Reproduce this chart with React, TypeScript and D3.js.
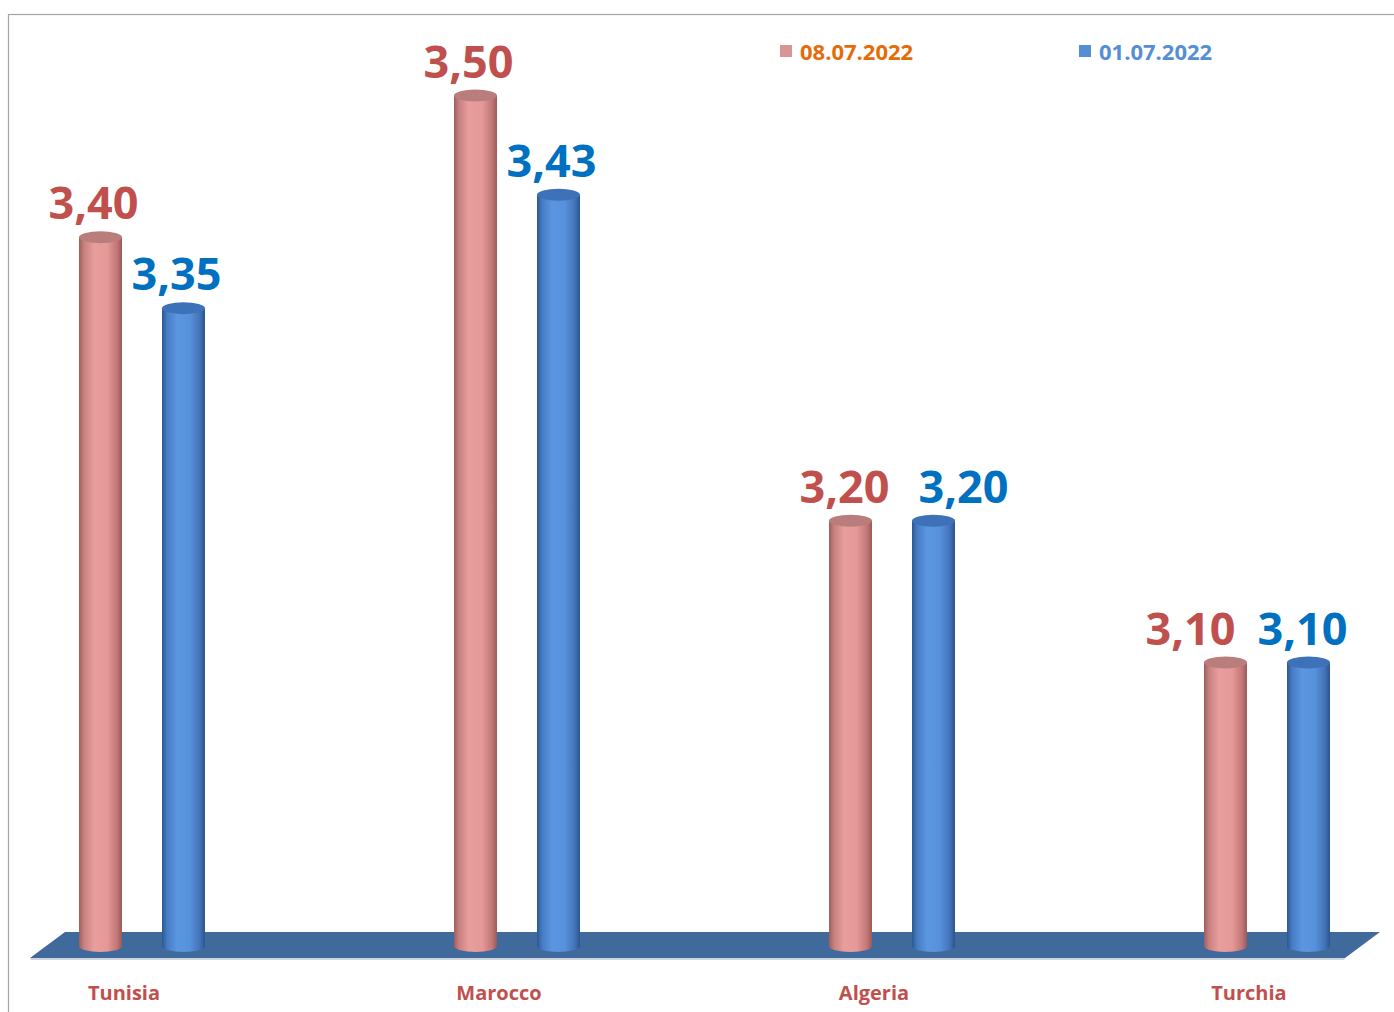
import React from "react";
import * as d3 from "d3";

const categories = ["Tunisia", "Marocco", "Algeria", "Turchia"];
const seriesNames = ["08.07.2022", "01.07.2022"];
const values0807 = [3.4, 3.5, 3.2, 3.1];
const values0107 = [3.35, 3.43, 3.2, 3.1];

const W = 1394;
const H = 1012;
const FONT = "'Open Sans', 'Noto Sans', sans-serif";

// label nudges (layout only): [series][category] horizontal offset of the value label from its bar centre
const LABEL_DX = [
  [-7, -7, -6, -35],
  [-7, -7, 30, -6],
];

const series = [
  { name: seriesNames[0], values: values0807, grad: "gPink", top: "#B97D7C", label: "#C0504D", swatch: "#D99594", legendText: "#E36C09" },
  { name: seriesNames[1], values: values0107, grad: "gBlue", top: "#3E72B8", label: "#0070C0", swatch: "#558ED5", legendText: "#558ED5" },
];

export default function App() {
  const x = d3.scalePoint<string>().domain(categories).range([142, 1267]);
  const y = d3.scaleLinear().domain([2.9, 3.5]).range([946, 95.5]);
  const fmt = (v: number) => d3.format(".2f")(v).replace(".", ",");
  const offset = 41.5;
  const rx = 21.5;
  const ry = 6;

  return (
    <svg width={W} height={H} style={{ position: "absolute", left: 0, top: 0, display: "block" }}>
      <defs>
        <linearGradient id="gPink" x1="0" x2="1" y1="0" y2="0">
          <stop offset="0%" stopColor="#9C5F5D" />
          <stop offset="12%" stopColor="#C98180" />
          <stop offset="35%" stopColor="#E79E9D" />
          <stop offset="65%" stopColor="#E59998" />
          <stop offset="88%" stopColor="#C27877" />
          <stop offset="100%" stopColor="#985A59" />
        </linearGradient>
        <linearGradient id="gBlue" x1="0" x2="1" y1="0" y2="0">
          <stop offset="0%" stopColor="#2C5892" />
          <stop offset="12%" stopColor="#467CC4" />
          <stop offset="35%" stopColor="#5B96E0" />
          <stop offset="65%" stopColor="#5791DC" />
          <stop offset="88%" stopColor="#4373B8" />
          <stop offset="100%" stopColor="#2B548C" />
        </linearGradient>
      </defs>
      <rect x={0} y={0} width={W} height={H} fill="#FFFFFF" />
      <rect x={8.5} y={14.5} width={1400} height={1020} fill="none" stroke="#A6A6A6" strokeWidth={1.2} />

      {/* floor */}
      <polygon points="30,958 65,932 1380,932 1345,958" fill="#40699C" />
      <polygon points="30,958 1345,958 1344,960 31,960" fill="#A9B7C9" opacity={0.6} />

      {/* cylinders */}
      {categories.map((c, i) =>
        series.map((s, j) => {
          const cx = (x(c) as number) + (j === 0 ? -offset : offset);
          const yt = y(s.values[i]);
          const yb = y(2.9);
          const path = `M${cx - rx},${yt} L${cx - rx},${yb} A${rx},${ry} 0 0 0 ${cx + rx},${yb} L${cx + rx},${yt} Z`;
          return (
            <g key={`${c}-${j}`}>
              <path d={path} fill={`url(#${s.grad})`} />
              <ellipse cx={cx} cy={yt} rx={rx} ry={ry} fill={s.top} />
              <text
                x={cx + LABEL_DX[j][i]}
                y={yt - 18}
                textAnchor="middle"
                fontFamily={FONT}
                fontWeight={700}
                fontSize={45}
                fill={s.label}
              >
                {fmt(s.values[i])}
              </text>
            </g>
          );
        })
      )}

      {/* category labels */}
      {categories.map((c) => (
        <text
          key={c}
          x={(x(c) as number) - 18}
          y={1000}
          textAnchor="middle"
          fontFamily={FONT}
          fontWeight={700}
          fontSize={20}
          fill="#C0504D"
        >
          {c}
        </text>
      ))}

      {/* legend */}
      {series.map((s, j) => {
        const lx = j === 0 ? 780 : 1079;
        return (
          <g key={s.name}>
            <rect x={lx} y={45} width={12} height={12} fill={s.swatch} />
            <text x={lx + 20} y={60} fontFamily={FONT} fontWeight={700} fontSize={22} fill={s.legendText}>
              {s.name}
            </text>
          </g>
        );
      })}
    </svg>
  );
}
